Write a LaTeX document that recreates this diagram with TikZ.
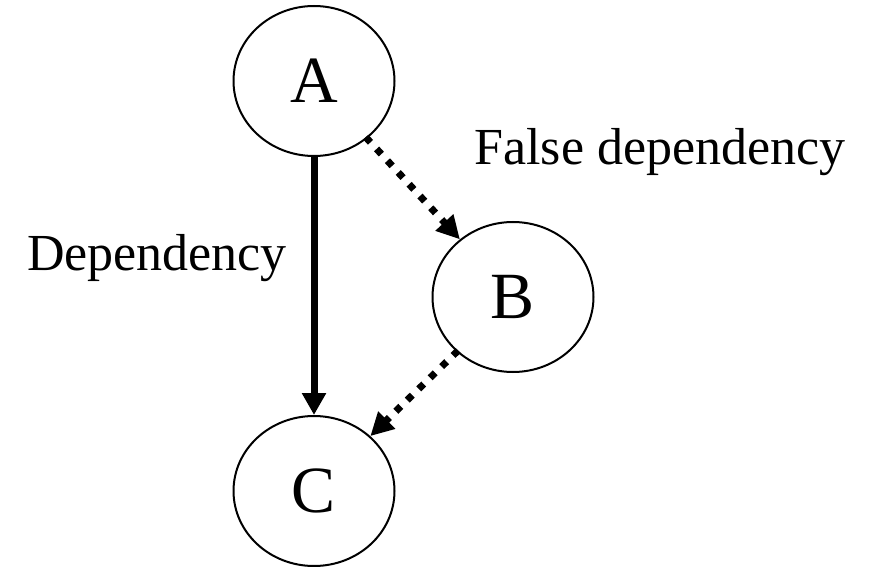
\documentclass[tikz,border=0pt]{standalone}
\usepackage{fontspec}
\setmainfont{Liberation Serif}
\usetikzlibrary{shapes.geometric,arrows.meta}
\begin{document}
\begin{tikzpicture}[x=1pt,y=-1pt,
  vertex/.style={draw,ellipse,line width=2pt,minimum width=161pt,minimum height=150pt,inner sep=0pt,font=\fontsize{66}{66}\selectfont},
  label text/.style={font=\fontsize{52}{52}\selectfont,anchor=base,inner sep=0pt},
  dep/.style={line width=7pt,-{Triangle[length=22pt,width=23pt]}},
  falsedep/.style={line width=7pt,dash pattern=on 7pt off 9pt,-{Triangle[length=23pt,width=23pt]}}]
  \useasboundingbox (0,0) rectangle (879,567);
  \node[vertex] (A) at (314,81) {A};
  \node[vertex] (B) at (513,297) {B};
  \node[vertex] (C) at (314,491) {C};
  \draw[dep] (A) -- (C);
  \draw[falsedep,shorten <=-2pt] (A) -- (B);
  \draw[falsedep,shorten <=-2pt] (B) -- (C);
  \node[label text] (fd) at (660,165) {False dependency};
  \node[label text] (d) at (157,270) {Dependency};
\end{tikzpicture}
\end{document}
